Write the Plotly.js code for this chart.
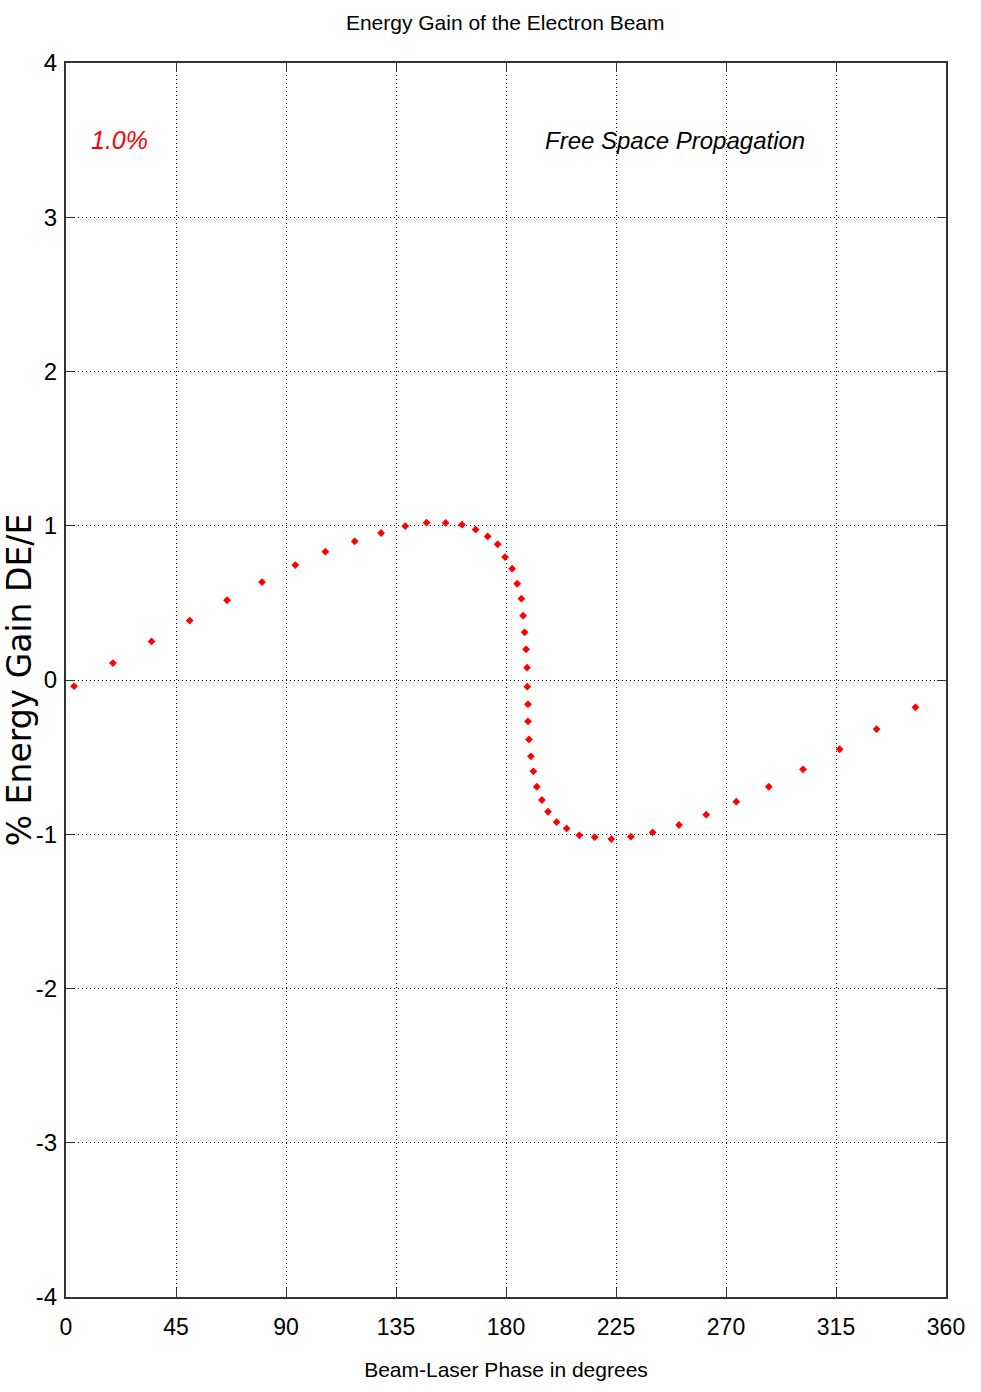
<!DOCTYPE html>
<html>
<head>
<meta charset="utf-8">
<script src="https://cdn.plot.ly/plotly-3.0.1.min.js"></script>
<style>html,body{margin:0;padding:0;background:#fff;}#chart{width:981px;height:1392px;}</style>
</head>
<body>
<div id="chart"></div>
<script>
const phaseDeg = [3.3, 19.2, 35.0, 50.6, 65.9, 80.2, 93.8, 106.1, 118.1, 128.9, 138.8, 147.5, 155.3, 162.0, 167.6, 172.5, 176.6, 179.6, 182.5, 184.6, 186.3, 187.0, 187.6, 188.2, 188.6, 188.7, 189.0, 189.0, 189.4, 190.2, 191.2, 192.6, 194.7, 197.2, 200.7, 204.8, 210.0, 216.3, 223.1, 231.1, 240.0, 250.8, 261.9, 274.2, 287.5, 301.5, 316.5, 331.6, 347.5];
const energyGain = [-0.04, 0.11, 0.25, 0.385, 0.517, 0.635, 0.745, 0.832, 0.899, 0.953, 0.998, 1.02, 1.018, 1.007, 0.975, 0.931, 0.88, 0.797, 0.722, 0.624, 0.527, 0.417, 0.309, 0.199, 0.08, -0.043, -0.158, -0.268, -0.385, -0.495, -0.592, -0.692, -0.778, -0.854, -0.921, -0.962, -1.007, -1.018, -1.031, -1.016, -0.988, -0.94, -0.873, -0.789, -0.692, -0.579, -0.449, -0.318, -0.177];
const xTicks = [0, 45, 90, 135, 180, 225, 270, 315, 360];
const yTicks = [-4, -3, -2, -1, 0, 1, 2, 3, 4];

const narrow = '"Liberation Sans Narrow", "Arial Narrow", "Liberation Sans", Arial, sans-serif';

const trace = {
  x: phaseDeg, y: energyGain, type: 'scatter', mode: 'markers',
  marker: {symbol: 'diamond', size: 6, color: '#ff0000', line: {width: 0}},
  hoverinfo: 'x+y', showlegend: false
};

const layout = {
  width: 981, height: 1392,
  margin: {l: 66, r: 35, t: 63, b: 95},
  paper_bgcolor: '#ffffff', plot_bgcolor: '#ffffff',
  title: {text: 'Energy Gain of the Electron Beam', x: 0.515, xanchor: 'center', y: 0.984, yanchor: 'middle',
          font: {family: narrow, size: 21, color: '#000'}},
  xaxis: {
    range: [0, 360], tickvals: xTicks, ticktext: xTicks.map(String),
    showgrid: true, gridcolor: '#000', griddash: '1px,3px', gridwidth: 1,
    zeroline: false, showline: true, linecolor: '#333', linewidth: 2, mirror: 'ticks',
    ticks: 'inside', ticklen: 9, tickcolor: '#333', tickwidth: 1,
    tickfont: {family: narrow, size: 23, color: '#000'}, ticklabelstandoff: 8,
    title: {text: 'Beam-Laser Phase in degrees', font: {family: narrow, size: 21, color: '#000'}, standoff: 24}
  },
  yaxis: {
    range: [-4, 4], tickvals: yTicks, ticktext: yTicks.map(String),
    showgrid: true, gridcolor: '#000', griddash: '1px,3px', gridwidth: 1,
    zeroline: false, showline: true, linecolor: '#333', linewidth: 2, mirror: 'ticks',
    ticks: 'inside', ticklen: 9, tickcolor: '#333', tickwidth: 1,
    tickfont: {family: narrow, size: 24, color: '#000'}, ticklabelstandoff: 2,
    title: {text: '% Energy Gain DE/E', font: {family: '"DejaVu Sans", Verdana, sans-serif', size: 33, color: '#000'}, standoff: 0}
  },
  annotations: [
    {x: 22, y: 3.5, xref: 'x', yref: 'y', text: '<i>1.0%</i>', showarrow: false,
     font: {family: narrow, size: 25, color: '#ff0000'}},
    {x: 249, y: 3.5, xref: 'x', yref: 'y', text: '<i>Free Space Propagation</i>', showarrow: false,
     font: {family: narrow, size: 24, color: '#000'}}
  ]
};

Plotly.newPlot('chart', [trace], layout, {displayModeBar: false, staticPlot: true});
</script>
</body>
</html>
